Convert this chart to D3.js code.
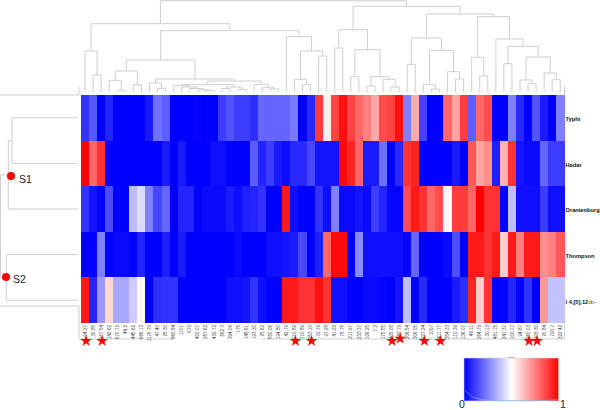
<!DOCTYPE html>
<html><head><meta charset="utf-8">
<script src="https://cdn.jsdelivr.net/npm/d3@7"></script>
<style>html,body{margin:0;padding:0;background:#fff}svg{display:block}text{font-family:"Liberation Sans",Arial,sans-serif}</style>
</head><body><div id="chart"></div>
<script>
const rowNames=["Typhi","Hadar","Oranienburg","Thompson","I 4,[5],12:i:-"];
const colLabels=["94.27","30.85","157.54","142.62","670.72","44.2","445.62","666.13","1176.70","47.40","25.30","860.84","1101","679","400.07","287.62","439.72","562.3","394.06","175","148.61","193.30","25.62","550.06","194.80","42.79","710.82","710.89","253.10","79.79","97.28","41.22","75.75","211.97","233.37","106.25","7.2","175.55","405.05","282.79","206.54","306.05","227.24","1007","411.77","354.33","110.39","136.07","46.11","264.79","30.13","481.15","247.37","100.77","94.67","260.03","308.30","20.84","790.7","322.42"];
const typhi=[.1,.17,0,.07,0,0,0,0,.05,.22,.18,0,0,0,.01,0,0,.12,.16,.12,.12,.09,.2,.2,.2,.2,.24,0,.08,.88,.53,.87,.97,.87,.8,.75,.67,.85,.87,.97,.25,.67,.13,0,0,.8,.68,.88,.18,.8,.85,0,0,.25,.08,0,.16,.05,0,.25];
const hadar=[1,.8,.9,0,0,0,0,0,0,0,.05,0,.05,0,0,0,.03,.03,0,0,0,.18,.07,.12,.05,.03,.08,.08,.14,.04,.04,.04,.98,.93,.8,.05,.05,.22,0,.08,.9,.93,0,0,0,0,.05,0,.83,.68,.72,.06,.65,.9,.04,.02,.02,.2,.12,.12];
const oranienburg=[.1,.04,0,.15,0,0,.37,.43,.25,.14,.2,0,.07,.07,0,.02,.02,.02,.05,.03,.06,.07,.1,0,0,.95,.03,0,0,.1,.03,.25,.02,.02,.04,.02,.12,.07,.01,.01,.85,.95,.9,.8,.85,.52,.88,.88,.8,1,.9,.9,0,.37,.03,.03,.03,.12,.03,.03];
const thompson=[0,0,.25,0,.02,.02,0,.07,0,0,.06,0,.05,0,0,0,0,0,0,.02,0,0,0,.03,.03,.04,.05,.14,0,.06,.8,.98,.98,0,.27,.03,.03,.03,.03,.03,.01,.2,0,0,0,.02,.15,0,.95,.95,.9,.95,.6,.95,.75,.95,.95,.72,.75,.83];
const i4512=[.95,.07,.3,.58,.33,.33,.4,.52,0,.09,.1,.1,0,0,0,0,0,0,.03,.03,.04,.1,.03,0,0,.95,.95,.9,.9,.97,.9,.03,.03,0,0,.02,.02,.01,0,.04,.37,0,.08,0,0,0,.05,.09,.93,.6,.9,0,.01,.07,0,.1,0,.7,.38,.38];
const rows=[typhi,hadar,oranienburg,thompson,i4512];
const starCols=[0,2,26,28,38,39,42,44,55,56];
const liftedStars=[39];
const legendBins=[10,7,4,3,2,1.5,1,.8,.6,.5,.4,.3,.3,.3,.3,.3,.3,.3,.3,.3,.4,.4,.5,.6,.7,.8,1,1.5];
// dendrogram merges: [distance, child, child]; a number child is a leaf index
const colTree=[91.3,
 [68.3,[41,0,[17,1,2]],
  [61.3,
   [32,[21,[11.7,3,[1.7,4,5]],[7.3,6,7]],
    [13,[9,8,[3.7,9,10]],
     [11,[7.3,[6.3,11,[5,12,[3.5,13,[2,14,[1.5,15,16]]]]],[5,[3.5,17,18],[2.5,19,20]]],
      [7.3,21,[4.3,22,[3.3,23,24]]]]]],
   [55.3,25,[41,[12.7,26,[7.3,27,28]],[36,29,30]]]]],
 [85.7,
  [62.3,[44,31,32],[42.3,[15.3,33,34],[15.3,[6,35,36],[12.7,37,[5,38,39]]]]],
  [78,
   [54,[27.7,40,41],[41.7,[7.7,42,[3,43,44]],[20.3,45,[13,46,47]]]],
   [75.3,[34.7,48,[16,49,50]],[53,51,[45.7,[28.3,52,53],[35,[12,54,[8.3,55,56]],[19,57,[12.3,58,59]]]]]]]]];
const rowTree=[77.5,[69.7,[66,0,1],2],[71.7,3,4]];

const W=600,H=410;
const svg=d3.select("#chart").append("svg").attr("width",W).attr("height",H);
const x=d3.scaleBand().domain(d3.range(colLabels.length)).range([81,564.3]);
const y=d3.scaleBand().domain(d3.range(rowNames.length)).range([95,323]);
const color=d3.scaleLinear().domain([0,.5,1]).range(["#0000ff","#ffffff","#ff0000"]);
const gray="#cfcfcf";

// frame
const frame=svg.append("g").attr("stroke",gray).attr("fill","none").attr("stroke-width",1);
[[0,95,79,95],[79,87,79,95],[0,306,79,306],[79,306,79,339],[79,339,174,339],[261,339,564.5,339],[564.5,86,564.5,339]]
 .forEach(l=>frame.append("line").attr("x1",l[0]).attr("y1",l[1]).attr("x2",l[2]).attr("y2",l[3]));

// heat map
const cells=rows.flatMap((r,ri)=>r.map((v,ci)=>({ri,ci,v})));
svg.append("g").attr("shape-rendering","crispEdges").selectAll("rect").data(cells).join("rect")
 .attr("x",d=>x(d.ci)).attr("y",d=>y(d.ri)).attr("width",x.bandwidth()+.3).attr("height",y.bandwidth()+.3)
 .attr("fill",d=>color(d.v));

// dendrograms
function drawTree(g,tree,leafPos,distPos,horizontal){
  const seg=(p,a,b,c,d)=>horizontal?p.push(`M${b},${a}L${d},${c}`):p.push(`M${a},${b}L${c},${d}`);
  const paths=[];
  (function walk(n){
    if(typeof n==="number")return {pos:leafPos(n),dist:0};
    const a=walk(n[1]),b=walk(n[2]),t=distPos(n[0]);
    seg(paths,a.pos,distPos(a.dist),a.pos,t);
    seg(paths,b.pos,distPos(b.dist),b.pos,t);
    seg(paths,a.pos,t,b.pos,t);
    return {pos:(a.pos+b.pos)/2,dist:n[0]};
  })(tree);
  g.append("path").attr("d",paths.join("")).attr("fill","none").attr("stroke",gray).attr("stroke-width",1);
}
const colDist=d3.scaleLinear().domain([0,92]).range([92,0]);
const rowDist=d3.scaleLinear().domain([0,78]).range([78,0]);
drawTree(svg.append("g"),colTree,i=>x(i)+x.bandwidth()/2,colDist,false);
drawTree(svg.append("g"),rowTree,i=>y(i)+y.bandwidth()/2,rowDist,true);

// axes
const bottom=svg.append("g").attr("transform","translate(0,324)")
 .call(d3.axisBottom(x).tickSize(0).tickFormat(i=>colLabels[i]));
bottom.select(".domain").remove();
bottom.selectAll("text").attr("transform","rotate(-90)").attr("x",-1).attr("y",0).attr("dy","0.35em")
 .attr("text-anchor","end").attr("font-size",4.6).attr("fill","#444");
const right=svg.append("g").attr("transform","translate(564.5,1.5)")
 .call(d3.axisRight(y).tickSize(0).tickPadding(1).tickFormat(i=>rowNames[i]));
right.select(".domain").remove();
right.selectAll("text").attr("font-size",5.7).attr("font-weight","bold").attr("fill","#111");

// stars
svg.append("g").selectAll("path").data(starCols).join("path")
 .attr("d",d3.symbol(d3.symbolStar,42))
 .attr("transform",d=>`translate(${x(d)+x.bandwidth()/2+1},${liftedStars.includes(d)?338.6:341})`)
 .attr("fill","#ff0000");

// cluster marks
[["S1",11,176,19,182.5],["S2",6,277,13,283]].forEach(m=>{
  svg.append("circle").attr("cx",m[1]).attr("cy",m[2]).attr("r",4).attr("fill","#ff0000");
  svg.append("text").attr("x",m[3]).attr("y",m[4]).attr("font-size",10.5).attr("fill","#222").text(m[0]);
});

// colour key
const defs=svg.append("defs");
const grad=defs.append("linearGradient").attr("id","key");
[0,.5,1].forEach(s=>grad.append("stop").attr("offset",s).attr("stop-color",color(s)));
const kx=d3.scaleLinear().domain([0,1]).range([464,558.7]);
const ky=d3.scaleLinear().domain([0,10]).range([401,391]);
svg.append("rect").attr("x",kx(0)).attr("y",358).attr("width",kx(1)-kx(0)).attr("height",43)
 .attr("fill","url(#key)").attr("stroke","#d8d8d8").attr("stroke-width",.6);
svg.append("path").datum(legendBins)
 .attr("d",d3.line().x((d,i)=>kx((i+.5)/legendBins.length)).y(d=>ky(d)))
 .attr("fill","none").attr("stroke","#7fb4e6").attr("stroke-width",.7);
svg.append("line").attr("x1",kx(.5)-3).attr("x2",kx(.5)+3).attr("y1",357.4).attr("y2",357.4).attr("stroke","#aaa").attr("stroke-width",1);
[[0,"0",462],[1,"1",563]].forEach(t=>svg.append("text").attr("x",t[2]).attr("y",407.6).attr("text-anchor","middle")
 .attr("font-size",10.5).attr("fill","#222").text(t[1]));
</script></body></html>
